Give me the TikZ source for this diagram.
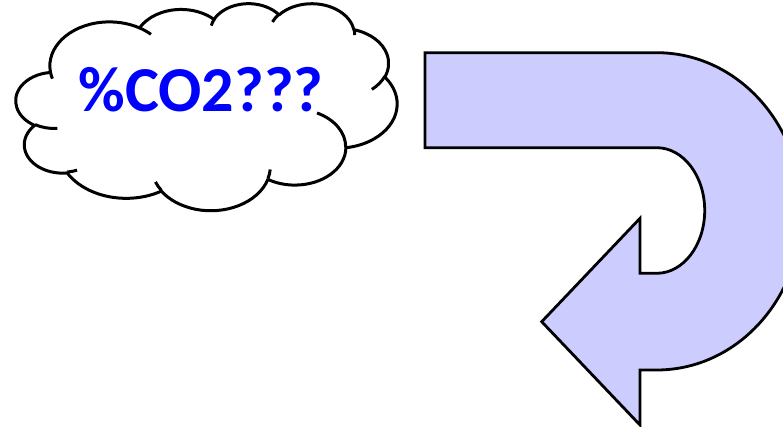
\documentclass[tikz,border=0pt]{standalone}
\usepackage{fontspec}
\setsansfont{Carlito}
\usepackage{xcolor}
\definecolor{ink}{HTML}{000000}
\definecolor{qblue}{HTML}{0000FF}
\definecolor{lilac}{HTML}{CCCCFF}
\usetikzlibrary{positioning}
\tikzset{
  cloudline/.style={draw=ink,fill=white,line width=3pt,line join=round},
  curl/.style={draw=ink,line width=3pt},
  uturn/.style={draw=ink,fill=lilac,line width=2.8pt,line join=miter},
  bigtxt/.style={font=\sffamily\bfseries\fontsize{64}{64}\selectfont,text=qblue,inner sep=0pt},
}
\begin{document}
\begin{tikzpicture}[x=1pt,y=-1pt]
  \useasboundingbox (0,0) rectangle (783,427);
  \clip (0,0) rectangle (783,427);
  % cloud, in a 4320 x 4320 frame of its own
  \begin{scope}[shift={(16,3)},x=0.088194pt,y=-0.047917pt]
    \draw[cloudline] (390,1437)
      \foreach \rw/\rh/\sa/\sw in {675.3/919.0/-190.48748/123.78053,
                                   533.3/726.7/-144.10238/89.94523,
                                   436.5/594.5/-145.80792/99.72302,
                                   485.7/659.5/-130.98607/117.24173,
                                   533.3/727.3/-78.70888/109.02692,
                                   677.5/922.0/-46.26725/130.269,
                                   578.5/786.7/0.62502/114.03333,
                                   675.2/921.5/22.4516/115.17255,
                                   772.0/1054.3/66.24263/75.71102,
                                   436.0/591.8/-274.94208/146.73557,
                                   434.5/594.5/-246.8285/152.51885}{
        arc[x radius=\rw,y radius=\rh,start angle={atan2(\rw*sin(\sa),\rh*cos(\sa))},
            delta angle={mod(atan2(\rw*sin(\sa+\sw),\rh*cos(\sa+\sw))-atan2(\rw*sin(\sa),\rh*cos(\sa))+720,360)}]
      } -- cycle;
    % inner curls
    \draw[curl]
      \foreach \px/\py/\rw/\rh/\sa/\sw in {469.3/2617.7/434.5/594.5/86.742/26.4295,
                                           692.8/3489.9/436.0/591.8/73.61047/11.44747,
                                           1647.8/3909.0/675.2/921.5/137.62415/14.0811,
                                           2882.7/3475.1/675.2/921.5/6.45327/15.99835,
                                           3412.9/2295.4/578.5/786.7/-70.29235/70.91737,
                                           4179.8/1535.4/533.3/727.3/30.31803/27.7515,
                                           3832.4/542.6/485.7/659.5/-13.74433/14.8589,
                                           2907.8/395.2/485.7/659.5/-149.18145/18.19537,
                                           2214.1/472.0/436.5/594.5/-163.49427/17.68635,
                                           1400.0/519.2/675.3/919.0/-66.70695/12.31935,
                                           412.7/1578.9/675.3/919.0/157.65435/11.85817}{
        (\px,\py) arc[x radius=\rw,y radius=\rh,start angle={atan2(\rw*sin(\sa),\rh*cos(\sa))},
            delta angle={mod(atan2(\rw*sin(\sa+\sw),\rh*cos(\sa+\sw))-atan2(\rw*sin(\sa),\rh*cos(\sa))+720,360)}]
      };
  \end{scope}
  \node[bigtxt,anchor=base] (co2) at (201,112) {\%CO2???};
  % u-turn arrow
  \draw[uturn] (425,52.7) -- (656.7,52.7)
    arc[start angle=-90,end angle=90,x radius=145,y radius=158.65] -- (640,370)
    -- (640,425) -- (541.7,321.7) -- (640,218.3) -- (640,273.3) -- (656.7,273.3)
    arc[start angle=90,end angle=-90,x radius=48,y radius=62.8] -- (425,147.7) -- cycle;
\end{tikzpicture}
\end{document}
